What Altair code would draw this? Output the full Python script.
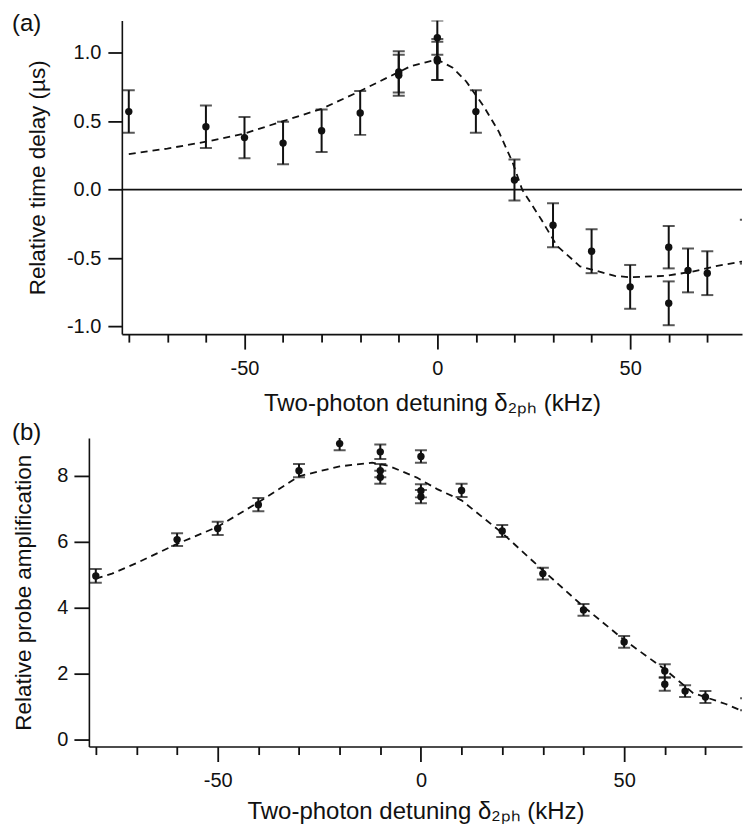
import altair as alt
import pandas as pd

# ---------------- Panel (a): relative time delay ----------------
xa = [-80, -60, -50, -40, -30, -20, -10, -10, 0, 0, 0, 10, 20, 30, 40, 50, 60, 60, 65, 70, 80]
ya = [0.57, 0.46, 0.38, 0.34, 0.43, 0.56, 0.86, 0.835, 1.11, 0.95, 0.94, 0.57, 0.07, -0.26, -0.45, -0.71, -0.42, -0.83, -0.59, -0.61, -0.38]
ea = [0.155, 0.155, 0.15, 0.155, 0.155, 0.16, 0.15, 0.15, 0.125, 0.15, 0.14, 0.155, 0.15, 0.16, 0.16, 0.16, 0.155, 0.16, 0.16, 0.16, 0.16]
fit_xa = [-80, -70, -60, -50, -40, -30, -20, -15, -7, -3, 0, 4, 7.5, 12, 16, 19.5, 22, 27, 31, 37, 46, 50, 59, 66, 72, 80]
fit_ya = [0.26, 0.30, 0.35, 0.41, 0.50, 0.59, 0.72, 0.79, 0.90, 0.93, 0.95, 0.89, 0.79, 0.61, 0.42, 0.20, 0.0, -0.22, -0.41, -0.56, -0.63, -0.64, -0.63, -0.60, -0.56, -0.52]

# ---------------- Panel (b): relative probe amplification ----------------
xb = [-80, -60, -50, -40, -30, -20, -10, -10, -10, 0, 0, 0, 10, 20, 30, 40, 50, 60, 60, 65, 70, 80]
yb = [4.96, 6.06, 6.40, 7.12, 8.15, 8.97, 8.72, 8.15, 7.95, 8.58, 7.54, 7.36, 7.55, 6.32, 5.03, 3.93, 2.96, 2.08, 1.68, 1.47, 1.29, 1.07]
eb = [0.21, 0.19, 0.2, 0.2, 0.2, 0.2, 0.22, 0.2, 0.2, 0.19, 0.2, 0.2, 0.2, 0.18, 0.18, 0.18, 0.18, 0.2, 0.2, 0.18, 0.18, 0.18]
fit_xb = [-80, -76, -70, -60, -50, -40, -30, -20, -12, -8, -1, 4, 10, 20, 30, 40, 50, 60, 67, 75, 80]
fit_yb = [4.88, 5.03, 5.35, 5.93, 6.45, 7.19, 7.98, 8.28, 8.39, 8.30, 7.94, 7.59, 7.25, 6.26, 5.13, 4.03, 3.02, 2.13, 1.41, 1.08, 0.82]

# ---------------- Axes ----------------
x_ticks = [-80, -70, -60, -50, -40, -30, -20, -10, 0, 10, 20, 30, 40, 50, 60, 70]
ya_ticks = [-1.0, -0.5, 0.0, 0.5, 1.0]
yb_ticks = [0, 2, 4, 6, 8]
dom_xa = [-81.8, 79.0]
dom_ya = [-1.055, 1.235]
dom_xb = [-81.7, 79.0]
dom_yb = [-0.21, 9.14]

x_title = "Two-photon detuning δ₂ₚₕ (kHz)"
ya_title = "Relative time delay (µs)"
yb_title = "Relative probe amplification"

FONT = "Liberation Sans"
INK = "#111111"
W = 654
SHIFT_A = 33


def xaxis(title_pad):
    return alt.Axis(
        values=x_ticks,
        tickSize={"condition": {"test": "datum.value % 50 === 0", "value": 15}, "value": 8},
        labelExpr="datum.value % 50 === 0 ? datum.value + '' : ''",
        title=x_title,
        labelPadding=9,
        titlePadding=title_pad,
        grid=False,
    )


def panel(xs, ys, es, fx, fy, xscale, yscale, xax, yaxis, label, label_y, zero_line):
    pts = pd.DataFrame({"x": xs, "y": ys, "lo": [v - e for v, e in zip(ys, es)],
                        "hi": [v + e for v, e in zip(ys, es)]})
    fit = pd.DataFrame({"x": fx, "y": fy})

    def X(field):
        return alt.X(field, scale=xscale, axis=xax)

    def Y(field):
        return alt.Y(field, scale=yscale, axis=yaxis)

    base = alt.Chart(pts)
    bars = base.mark_rule(color=INK, strokeWidth=2, clip=True).encode(x=X("x:Q"), y=Y("lo:Q"), y2="hi:Q")
    cap_lo = base.mark_tick(color=INK, orient="horizontal", size=12, thickness=2, clip=True).encode(
        x=X("x:Q"), y=Y("lo:Q"))
    cap_hi = base.mark_tick(color=INK, orient="horizontal", size=12, thickness=2, clip=True).encode(
        x=X("x:Q"), y=Y("hi:Q"))
    dots = base.mark_circle(color=INK, opacity=1, size=55, clip=True).encode(x=X("x:Q"), y=Y("y:Q"))
    curve = alt.Chart(fit).mark_line(color=INK, strokeWidth=1.8, strokeDash=[7, 5], clip=True).encode(
        x=X("x:Q"), y=Y("y:Q"))
    text = alt.Chart(pd.DataFrame({"t": [label]})).mark_text(
        align="left", baseline="middle", font=FONT, fontSize=24, color=INK
    ).encode(text="t:N", x=alt.value(-77), y=alt.value(label_y))
    layers = []
    if zero_line is not None:
        zl = alt.Chart(pd.DataFrame({"x1": [zero_line[0]], "x2": [zero_line[1]], "y": [0.0]})).mark_rule(
            color=INK, strokeWidth=1.6
        ).encode(x=X("x1:Q"), x2="x2:Q", y=Y("y:Q"))
        layers.append(zl)
    layers += [curve, bars, cap_lo, cap_hi, dots, text]
    return alt.layer(*layers)


scale_xa = alt.Scale(domain=dom_xa, range=[SHIFT_A, W], nice=False, zero=False)
scale_ya = alt.Scale(domain=dom_ya, nice=False, zero=False)
scale_xb = alt.Scale(domain=dom_xb, nice=False, zero=False)
scale_yb = alt.Scale(domain=dom_yb, nice=False, zero=False)

yaxis_a = alt.Axis(
    values=ya_ticks,
    tickSize=14,
    labelPadding=7,
    labelExpr="replace(format(datum.value, '.1f'), '\u2212', '-')",
    title=ya_title,
    titleFontSize=22.5,
    titlePadding=17,
    offset=-SHIFT_A,
    grid=False,
)
yaxis_b = alt.Axis(
    values=yb_ticks,
    tickSize=15,
    labelPadding=6,
    format="d",
    title=yb_title,
    titleFontSize=22.5,
    titlePadding=21,
    grid=False,
)

pa = panel(xa, ya, ea, fit_xa, fit_ya, scale_xa, scale_ya, xaxis(13), yaxis_a, "(a)", 3, dom_xa).properties(
    width=W, height=314)
pb = panel(xb, yb, eb, fit_xb, fit_yb, scale_xb, scale_yb, xaxis(9), yaxis_b, "(b)", -5, None).properties(
    width=W, height=309)

chart = alt.vconcat(pa, pb, spacing=104, bounds="flush").properties(
    padding={"left": 4, "top": 3, "right": 0, "bottom": 0}
).configure_view(stroke=None).configure_axis(
    domainColor=INK,
    domainWidth=1.6,
    tickColor=INK,
    tickWidth=1.8,
    labelFont=FONT,
    labelFontSize=20,
    labelColor=INK,
    titleFont=FONT,
    titleFontSize=24,
    titleFontWeight="normal",
    titleColor=INK,
)

chart.save("out.html", embed_options={"renderer": "svg", "actions": False})
